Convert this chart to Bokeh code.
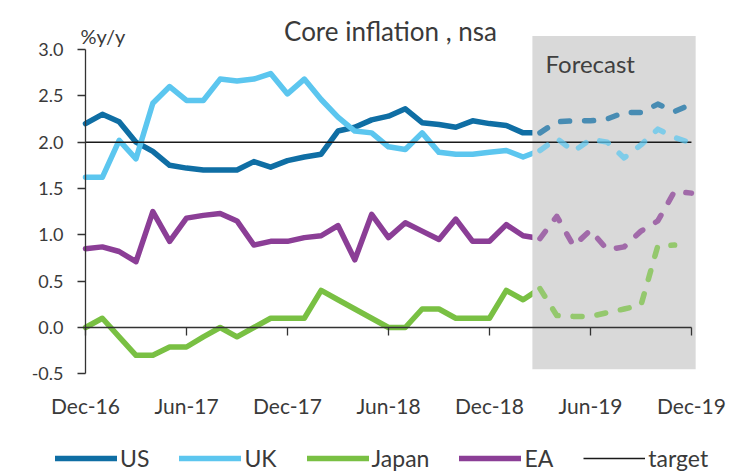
from bokeh.plotting import figure
from bokeh.models import Range1d, FixedTicker, Label, Legend, LegendItem, NumeralTickFormatter, LinearAxis
from bokeh.embed import file_html
from bokeh.resources import INLINE

months = ["Dec-16", "Jan-17", "Feb-17", "Mar-17", "Apr-17", "May-17", "Jun-17", "Jul-17",
          "Aug-17", "Sep-17", "Oct-17", "Nov-17", "Dec-17", "Jan-18", "Feb-18", "Mar-18",
          "Apr-18", "May-18", "Jun-18", "Jul-18", "Aug-18", "Sep-18", "Oct-18", "Nov-18",
          "Dec-18", "Jan-19", "Feb-19", "Mar-19", "Apr-19", "May-19", "Jun-19", "Jul-19",
          "Aug-19", "Sep-19", "Oct-19", "Nov-19", "Dec-19"]

# actual data: Dec-16 .. Mar-19
us_actual = [2.2, 2.3, 2.22, 2.0, 1.9, 1.75, 1.72, 1.7, 1.7, 1.7, 1.79, 1.73, 1.8, 1.84,
             1.87, 2.12, 2.16, 2.24, 2.28, 2.36, 2.21, 2.19, 2.16, 2.23, 2.2, 2.18, 2.1, 2.1]
uk_actual = [1.62, 1.62, 2.02, 1.82, 2.42, 2.6, 2.45, 2.45, 2.68, 2.66, 2.68, 2.74, 2.52, 2.68,
             2.46, 2.27, 2.12, 2.1, 1.95, 1.92, 2.1, 1.89, 1.87, 1.87, 1.89, 1.91, 1.84, 1.91]
japan_actual = [0.0, 0.1, -0.1, -0.3, -0.3, -0.21, -0.21, -0.1, 0.0, -0.1, 0.0, 0.1, 0.1, 0.1,
                0.4, 0.3, 0.2, 0.1, 0.0, 0.0, 0.2, 0.2, 0.1, 0.1, 0.1, 0.4, 0.3, 0.42]
ea_actual = [0.85, 0.87, 0.82, 0.71, 1.25, 0.93, 1.18, 1.21, 1.23, 1.15, 0.89, 0.93, 0.93, 0.97,
             0.99, 1.1, 0.73, 1.22, 0.97, 1.13, 1.04, 0.95, 1.17, 0.93, 0.93, 1.11, 0.99, 0.96]

# forecasts: Mar-19 .. Dec-19 (Japan to Nov-19)
us_forecast = [2.1, 2.22, 2.23, 2.23, 2.25, 2.32, 2.32, 2.41, 2.33, 2.41]
uk_forecast = [1.91, 2.04, 1.9, 2.03, 2.0, 1.83, 1.97, 2.14, 2.05, 1.99]
japan_forecast = [0.42, 0.13, 0.12, 0.12, 0.16, 0.2, 0.24, 0.88, 0.89]
ea_forecast = [0.96, 1.2, 0.88, 1.05, 0.84, 0.87, 1.04, 1.15, 1.47, 1.45]

target_level = 2.0
tick_labels = ["Dec-16", "Jun-17", "Dec-17", "Jun-18", "Dec-18", "Jun-19", "Dec-19"]
y_ticks = [-0.5, 0.0, 0.5, 1.0, 1.5, 2.0, 2.5, 3.0]

COL_US = "#0f6ea4"
COL_UK = "#5cc6ef"
COL_JP = "#79c043"
COL_EA = "#8b3e96"
FONT = "Lato"
TXT = "#3a3a3a"
AX = "#333333"

n_act = len(us_actual)
x_act = list(range(n_act))
fc_start = months.index("Mar-19")
last = len(months) - 1


def fc_x(vals):
    return list(range(fc_start, fc_start + len(vals)))


# the frame covers the whole canvas; axes are drawn at fixed data locations inside it
p = figure(frame_width=730, frame_height=472,
           x_range=Range1d(-5.05, 38.32), y_range=Range1d(-1.564, 3.528),
           output_backend="svg", toolbar_location=None,
           x_axis_location=None, y_axis_location=None,
           min_border=0,
           outline_line_color=None, background_fill_color="white", border_fill_color="white")
p.grid.visible = False

lw = 5.5
r_us = p.line(x_act, us_actual, line_color=COL_US, line_width=lw, line_join="round", line_cap="round")
r_uk = p.line(x_act, uk_actual, line_color=COL_UK, line_width=lw, line_join="round", line_cap="round")
r_jp = p.line(x_act, japan_actual, line_color=COL_JP, line_width=lw, line_join="round", line_cap="round")
r_ea = p.line(x_act, ea_actual, line_color=COL_EA, line_width=lw, line_join="round", line_cap="round")

# forecast band
band_left = fc_start - 0.45
band_right = last + 0.25
p.quad(left=[band_left], right=[band_right], bottom=[-0.45], top=[3.145],
       fill_color="#d9d9d9", line_color=None)

r_target = p.line([0, last], [target_level, target_level], line_color="#1a1a1a", line_width=1.5)

fa = 0.72
for vals, col in [(us_forecast, COL_US), (uk_forecast, COL_UK), (japan_forecast, COL_JP), (ea_forecast, COL_EA)]:
    p.line(fc_x(vals), vals, line_color=col, line_alpha=fa, line_width=lw,
           line_dash="9 15", line_cap="round", line_join="round")

tick_pos = [months.index(t) for t in tick_labels]
overrides = {pos: lab for pos, lab in zip(tick_pos, tick_labels)}


def style_axis(ax, size, standoff):
    ax.major_tick_out = 8
    ax.major_tick_in = 0
    ax.minor_tick_out = 0
    ax.minor_tick_in = 0
    ax.axis_line_color = AX
    ax.major_tick_line_color = AX
    ax.axis_line_width = 1.3
    ax.major_tick_line_width = 1.3
    ax.major_label_standoff = standoff
    ax.major_label_text_font = FONT
    ax.major_label_text_font_size = size
    ax.major_label_text_color = TXT


xa = LinearAxis(ticker=FixedTicker(ticks=tick_pos), major_label_overrides=overrides,
                fixed_location=0, bounds=(0, last))
style_axis(xa, "21px", 57)
p.add_layout(xa, "below")

ya = LinearAxis(ticker=FixedTicker(ticks=y_ticks), formatter=NumeralTickFormatter(format="0.0"),
                fixed_location=0, bounds=(-0.5, 3.0))
style_axis(ya, "18px", 14)
p.add_layout(ya, "left")

# texts
p.add_layout(Label(x=18.12, y=3.204, text="Core inflation , nsa", text_align="center",
                   text_baseline="alphabetic", text_font=FONT, text_font_size="26px", text_color=TXT))
p.add_layout(Label(x=-0.3, y=3.14, text="%y/y", text_align="left",
                   text_baseline="alphabetic", text_font=FONT, text_font_size="20px", text_color=TXT))
p.add_layout(Label(x=27.33, y=2.848, text="Forecast", text_align="left",
                   text_baseline="alphabetic", text_font=FONT, text_font_size="24px", text_color="#404040"))

legend = Legend(items=[LegendItem(label="US", renderers=[r_us]),
                       LegendItem(label="UK", renderers=[r_uk]),
                       LegendItem(label="Japan", renderers=[r_jp]),
                       LegendItem(label="EA", renderers=[r_ea]),
                       LegendItem(label="target", renderers=[r_target])],
                orientation="horizontal", location=(55, 0),
                glyph_width=62, glyph_height=20, label_standoff=3, spacing=30,
                padding=0, margin=0, border_line_alpha=0, background_fill_alpha=0,
                label_text_font=FONT, label_text_font_size="23px", label_text_color=TXT)
p.add_layout(legend)

open("out.html", "w").write(file_html(p, INLINE))
